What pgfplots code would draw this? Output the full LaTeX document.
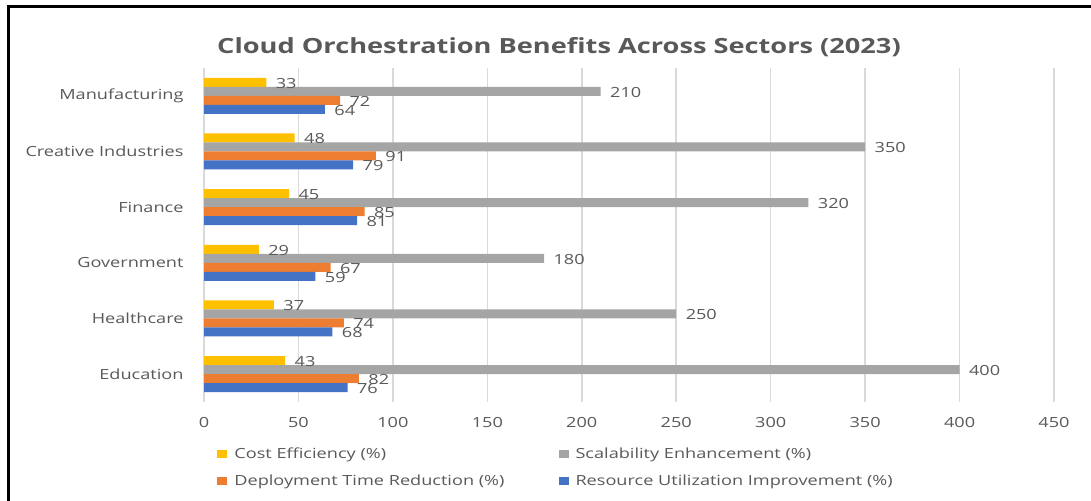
\documentclass[border=0pt]{standalone}
\usepackage{fontspec}
\setmainfont{Open Sans}[FakeStretch=1.3]
\newfontfamily\titlefont{Open Sans}[FakeStretch=1.3]
\usepackage{pgfplots}
\pgfplotsset{compat=1.18}
\definecolor{cY}{HTML}{FFC000}
\definecolor{cG}{HTML}{A5A5A5}
\definecolor{cO}{HTML}{ED7D31}
\definecolor{cB}{HTML}{4472C4}
\definecolor{txt}{HTML}{595959}
\definecolor{grd}{HTML}{D9D9D9}
\begin{document}
\begin{tikzpicture}[x=1bp,y=1bp]
\path[use as bounding box] (0,0) rectangle (1091,501);
\draw[black,line width=2.5bp] (8.5,0) -- (8.5,494.5) -- (1091,494.5);
\node[anchor=base,text=txt,font=\titlefont\bfseries\fontsize{21}{25}\selectfont] at (559,447) {Cloud Orchestration Benefits Across Sectors (2023)};
\begin{axis}[
  at={(204bp,99bp)}, anchor=south west,
  scale only axis, width=850bp, height=334bp,
  xmin=0, xmax=450, ymin=-0.5, ymax=5.5,
  xtick={0,50,...,450},
  ytick={0,1,2,3,4,5},
  yticklabels={Education,Healthcare,Government,Finance,Creative Industries,Manufacturing},
  /pgf/number format/assume math mode=true,
  tick label style={font=\fontsize{14}{17}\selectfont, text=txt},
  yticklabel style={xshift=-17bp},
  xticklabel style={yshift=-12bp},
  major tick length=0pt,
  axis line style={draw=none},
  xmajorgrids, grid style={grd, line width=1.5bp},
  xbar, bar width=9bp,
  clip=false,
  nodes near coords,
  every node near coord/.append style={font=\fontsize{14}{17}\selectfont, text=txt, anchor=west, xshift=6bp, yshift=-1bp},
  legend columns=2,
  legend cell align=left,
  legend style={at={(0.012,-0.125)}, anchor=north west, draw=none, fill=none,
    font=\fontsize{14}{17}\selectfont, text=txt, row sep=11bp,
    /tikz/every even column/.append style={column sep=52bp}},
  legend image code/.code={\fill[#1,draw=none] (0bp,-4bp) rectangle (10bp,4bp); \path[draw=none,fill=none] (0bp,0bp) rectangle (15bp,0.5bp);},
]
\addplot[fill=cY, draw=none, bar shift=13.5bp] coordinates {(43,0) (37,1) (29,2) (45,3) (48,4) (33,5)};
\addlegendentry{Cost Efficiency (\%)}
\addplot[fill=cG, draw=none, bar shift=4.5bp] coordinates {(400,0) (250,1) (180,2) (320,3) (350,4) (210,5)};
\addlegendentry{Scalability Enhancement (\%)}
\addplot[fill=cO, draw=none, bar shift=-4.5bp] coordinates {(82,0) (74,1) (67,2) (85,3) (91,4) (72,5)};
\addlegendentry{Deployment Time Reduction (\%)}
\addplot[fill=cB, draw=none, bar shift=-13.5bp] coordinates {(76,0) (68,1) (59,2) (81,3) (79,4) (64,5)};
\addlegendentry{Resource Utilization Improvement (\%)}
\end{axis}
\end{tikzpicture}
\end{document}
